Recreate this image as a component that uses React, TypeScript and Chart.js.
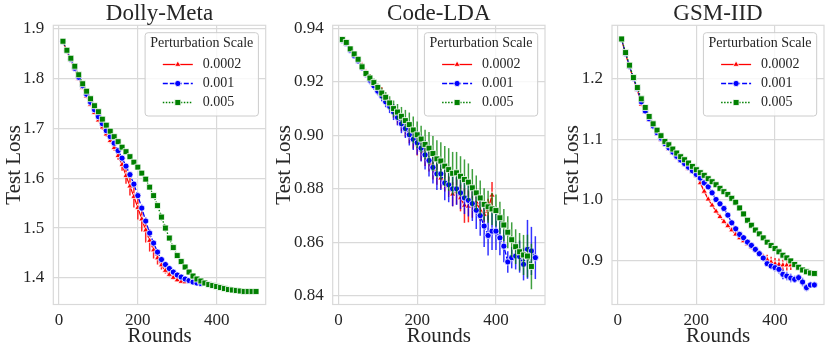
import React, { useEffect, useRef } from "react";
import { Chart, registerables } from "chart.js";
import { drawPoint } from "chart.js/helpers";

Chart.register(...registerables);

const FONT = "'Liberation Serif', 'Times New Roman', serif";
const TEXT = "#262626";
const GRID = "#d9d9d9";

const ROUNDS = [10, 20, 30, 40, 50, 60, 70, 80, 90, 100, 110, 120, 130, 140, 150, 160, 170, 180, 190, 200, 210, 220, 230, 240, 250, 260, 270, 280, 290, 300, 310, 320, 330, 340, 350, 360, 370, 380, 390, 400, 410, 420, 430, 440, 450, 460, 470, 480, 490, 500];
const X_TICKS = [0, 200, 400];
const SCALE_LABELS = ["0.0002", "0.001", "0.005"];
const LEGEND_TITLE = "Perturbation Scale";

// ---- Dolly-Meta ----
const DOLLY_Y_TICKS = [1.4, 1.5, 1.6, 1.7, 1.8, 1.9];
const DOLLY_RED = [1.873, 1.854, 1.836, 1.818, 1.799, 1.781, 1.764, 1.747, 1.731, 1.716, 1.702, 1.688, 1.675, 1.661, 1.645, 1.627, 1.605, 1.584, 1.563, 1.541, 1.518, 1.496, 1.475, 1.456, 1.440, 1.426, 1.415, 1.407, 1.401, 1.396, 1.393, 1.392, 1.393, 1.395];
const DOLLY_RED_ERR = [0.002, 0.002, 0.003, 0.003, 0.003, 0.003, 0.004, 0.004, 0.004, 0.004, 0.005, 0.005, 0.005, 0.006, 0.008, 0.012, 0.016, 0.019, 0.022, 0.024, 0.025, 0.025, 0.022, 0.017, 0.013, 0.009, 0.006, 0.005, 0.004, 0.004, 0.003, 0.003, 0.003, 0.003];
const DOLLY_BLUE = [1.874, 1.855, 1.838, 1.820, 1.802, 1.785, 1.768, 1.752, 1.737, 1.723, 1.709, 1.695, 1.683, 1.670, 1.655, 1.640, 1.624, 1.607, 1.588, 1.565, 1.540, 1.514, 1.490, 1.470, 1.452, 1.437, 1.427, 1.419, 1.412, 1.406, 1.402, 1.398, 1.395, 1.392, 1.390, 1.389];
const DOLLY_BLUE_ERR = [0.002, 0.002, 0.002, 0.002, 0.003, 0.003, 0.003, 0.003, 0.003, 0.003, 0.003, 0.004, 0.004, 0.004, 0.004, 0.005, 0.005, 0.005, 0.006, 0.006, 0.007, 0.007, 0.007, 0.006, 0.005, 0.005, 0.004, 0.004, 0.003, 0.003, 0.003, 0.003, 0.003, 0.003, 0.003, 0.003];
const DOLLY_GREEN = [1.874, 1.856, 1.840, 1.824, 1.807, 1.789, 1.774, 1.759, 1.745, 1.733, 1.718, 1.706, 1.694, 1.683, 1.673, 1.662, 1.653, 1.643, 1.632, 1.622, 1.610, 1.598, 1.582, 1.565, 1.545, 1.522, 1.500, 1.480, 1.461, 1.445, 1.433, 1.422, 1.412, 1.404, 1.398, 1.394, 1.390, 1.387, 1.385, 1.383, 1.381, 1.379, 1.377, 1.376, 1.375, 1.374, 1.373, 1.373, 1.373, 1.373];
const DOLLY_GREEN_ERR = [0.002, 0.003, 0.003, 0.003, 0.003, 0.003, 0.003, 0.004, 0.004, 0.004, 0.004, 0.004, 0.004, 0.004, 0.004, 0.004, 0.004, 0.004, 0.005, 0.005, 0.005, 0.005, 0.006, 0.006, 0.006, 0.007, 0.007, 0.006, 0.006, 0.005, 0.004, 0.004, 0.003, 0.003, 0.003, 0.002, 0.002, 0.002, 0.002, 0.002, 0.002, 0.002, 0.002, 0.002, 0.002, 0.002, 0.002, 0.002, 0.002, 0.002];

// ---- Code-LDA ----
const CODE_Y_TICKS = [0.84, 0.86, 0.88, 0.9, 0.92, 0.94];
const CODE_RED = [0.9355, 0.9345, 0.9318, 0.9300, 0.9283, 0.9262, 0.9236, 0.9214, 0.9190, 0.9170, 0.9160, 0.9135, 0.9115, 0.9090, 0.9070, 0.9045, 0.9025, 0.9005, 0.8985, 0.8965, 0.8945, 0.8925, 0.8905, 0.8880, 0.8860, 0.8840, 0.8830, 0.8810, 0.8780, 0.8792, 0.8766, 0.8738, 0.8735, 0.8742, 0.8750, 0.8720, 0.8704, 0.8723, 0.8776];
const CODE_RED_ERR = [0.001, 0.001, 0.001, 0.001, 0.001, 0.001, 0.001, 0.0015, 0.0015, 0.0015, 0.002, 0.002, 0.002, 0.0025, 0.003, 0.003, 0.003, 0.0035, 0.0035, 0.004, 0.004, 0.004, 0.004, 0.0045, 0.0045, 0.004, 0.004, 0.004, 0.0045, 0.005, 0.005, 0.0065, 0.006, 0.005, 0.004, 0.004, 0.004, 0.004, 0.005];
const CODE_BLUE = [0.9355, 0.9343, 0.9318, 0.9297, 0.9278, 0.9252, 0.9228, 0.9206, 0.9185, 0.9165, 0.9147, 0.9125, 0.9108, 0.9087, 0.9067, 0.9043, 0.9025, 0.9002, 0.8985, 0.8972, 0.8952, 0.8927, 0.8906, 0.8880, 0.8856, 0.8856, 0.8822, 0.8815, 0.8800, 0.8800, 0.8785, 0.8766, 0.8757, 0.8745, 0.8720, 0.8700, 0.8661, 0.8626, 0.8642, 0.8642, 0.8617, 0.8586, 0.8527, 0.8543, 0.8549, 0.8547, 0.8518, 0.8574, 0.8568, 0.8543];
const CODE_BLUE_ERR = [0.001, 0.001, 0.001, 0.001, 0.001, 0.0012, 0.0012, 0.0015, 0.0015, 0.0015, 0.002, 0.002, 0.0025, 0.003, 0.003, 0.0035, 0.0035, 0.004, 0.004, 0.0045, 0.005, 0.0055, 0.006, 0.006, 0.006, 0.006, 0.0065, 0.0065, 0.0065, 0.006, 0.006, 0.006, 0.006, 0.0065, 0.007, 0.0075, 0.0078, 0.0075, 0.007, 0.007, 0.0065, 0.006, 0.004, 0.004, 0.005, 0.006, 0.006, 0.011, 0.009, 0.008];
const CODE_GREEN = [0.9358, 0.9347, 0.9323, 0.9304, 0.9284, 0.9256, 0.9231, 0.9214, 0.9197, 0.9179, 0.9158, 0.9142, 0.9121, 0.9100, 0.9087, 0.9071, 0.9055, 0.9040, 0.9020, 0.9002, 0.8986, 0.8966, 0.8952, 0.8932, 0.8912, 0.8904, 0.8885, 0.8872, 0.8858, 0.8860, 0.8847, 0.8835, 0.8825, 0.8804, 0.8785, 0.8766, 0.8742, 0.8733, 0.8725, 0.8719, 0.8692, 0.8665, 0.8638, 0.8610, 0.8584, 0.8565, 0.8553, 0.8549, 0.8510];
const CODE_GREEN_ERR = [0.001, 0.001, 0.001, 0.001, 0.001, 0.0012, 0.0012, 0.0015, 0.0015, 0.0015, 0.002, 0.002, 0.0025, 0.003, 0.003, 0.0035, 0.004, 0.0045, 0.005, 0.005, 0.005, 0.0055, 0.006, 0.0065, 0.007, 0.007, 0.0075, 0.008, 0.008, 0.0078, 0.0075, 0.0075, 0.007, 0.007, 0.0065, 0.0065, 0.006, 0.006, 0.006, 0.006, 0.006, 0.006, 0.006, 0.0065, 0.0065, 0.007, 0.0075, 0.008, 0.0085];

// ---- GSM-IID ----
const GSM_Y_TICKS = [0.9, 1.0, 1.1, 1.2];
const GSM_RED = [1.265, 1.241, 1.220, 1.200, 1.182, 1.158, 1.145, 1.132, 1.120, 1.109, 1.100, 1.091, 1.084, 1.077, 1.070, 1.064, 1.058, 1.052, 1.047, 1.040, 1.028, 1.014, 1.001, 0.991, 0.981, 0.972, 0.964, 0.957, 0.950, 0.943, 0.937, 0.932, 0.927, 0.922, 0.917, 0.912, 0.906, 0.901, 0.897, 0.894, 0.893, 0.892, 0.892, 0.892];
const GSM_RED_ERR = [0.001, 0.001, 0.001, 0.001, 0.001, 0.001, 0.001, 0.001, 0.001, 0.001, 0.001, 0.001, 0.001, 0.0015, 0.0015, 0.0015, 0.002, 0.002, 0.002, 0.002, 0.003, 0.003, 0.003, 0.003, 0.003, 0.003, 0.003, 0.003, 0.003, 0.003, 0.003, 0.003, 0.003, 0.004, 0.004, 0.004, 0.006, 0.008, 0.009, 0.01, 0.01, 0.009, 0.009, 0.008];
const GSM_BLUE = [1.265, 1.242, 1.221, 1.201, 1.184, 1.162, 1.147, 1.134, 1.122, 1.111, 1.102, 1.093, 1.086, 1.079, 1.072, 1.066, 1.060, 1.054, 1.048, 1.042, 1.036, 1.028, 1.0215, 1.0116, 1.0005, 0.9934, 0.9857, 0.9747, 0.962, 0.9521, 0.9428, 0.9373, 0.9301, 0.9246, 0.918, 0.9109, 0.9037, 0.8944, 0.8905, 0.8878, 0.885, 0.8768, 0.874, 0.8707, 0.8685, 0.8713, 0.8641, 0.8548, 0.8592, 0.8592];
const GSM_BLUE_ERR = [0.001, 0.001, 0.001, 0.001, 0.001, 0.001, 0.001, 0.001, 0.001, 0.001, 0.001, 0.001, 0.001, 0.0015, 0.0015, 0.0015, 0.002, 0.002, 0.003, 0.004, 0.004, 0.005, 0.005, 0.005, 0.004, 0.004, 0.004, 0.003, 0.003, 0.003, 0.003, 0.003, 0.003, 0.003, 0.003, 0.003, 0.004, 0.004, 0.005, 0.006, 0.007, 0.008, 0.007, 0.007, 0.006, 0.006, 0.007, 0.006, 0.005, 0.005];
const GSM_GREEN = [1.266, 1.2435, 1.2226, 1.2022, 1.1857, 1.167, 1.1527, 1.1378, 1.1257, 1.1153, 1.106, 1.0966, 1.0911, 1.0839, 1.0773, 1.0713, 1.0663, 1.0608, 1.0553, 1.0498, 1.0449, 1.0405, 1.035, 1.030, 1.025, 1.019, 1.0135, 1.009, 1.0025, 0.996, 0.9866, 0.9767, 0.9662, 0.958, 0.950, 0.9437, 0.9371, 0.930, 0.9244, 0.9195, 0.914, 0.9084, 0.904, 0.899, 0.8931, 0.8885, 0.884, 0.881, 0.879, 0.8782];
const GSM_GREEN_ERR = [0.0015, 0.0015, 0.0015, 0.0015, 0.0015, 0.0015, 0.0015, 0.0015, 0.0015, 0.0015, 0.0015, 0.0015, 0.0015, 0.0015, 0.0015, 0.0015, 0.0015, 0.0015, 0.0015, 0.0015, 0.0015, 0.0015, 0.0015, 0.0015, 0.0015, 0.0015, 0.0015, 0.0015, 0.0015, 0.0015, 0.0015, 0.0015, 0.0015, 0.0015, 0.0015, 0.0015, 0.0015, 0.0015, 0.0015, 0.0015, 0.0015, 0.0015, 0.0015, 0.0015, 0.0015, 0.0015, 0.0015, 0.0015, 0.0015, 0.0015];

const COLORS = ["#ff0000", "#0000ff", "#008000"];
const ERR_COLORS = ["rgba(255,0,0,0.85)", "rgba(0,0,255,0.8)", "rgba(0,128,0,0.75)"];
const DASHES = [[], [5, 2], [1.5, 1.5]];
const MARKERS = ["triangle", "circle", "rect"];
const RADII = [3.6, 3.1, 4.2];

type Panel = {
  title: string;
  yMin: number;
  yMax: number;
  yTicks: number[];
  digits: number;
  series: number[][];
  errors: number[][];
  left: number;
  width: number;
  axisW: number;
  padRight: number;
  yTitlePad: number;
};

const PANELS: Panel[] = [
  { title: "Dolly-Meta", yMin: 1.347, yMax: 1.906, yTicks: DOLLY_Y_TICKS, digits: 1, series: [DOLLY_RED, DOLLY_BLUE, DOLLY_GREEN], errors: [DOLLY_RED_ERR, DOLLY_BLUE_ERR, DOLLY_GREEN_ERR], left: 0, width: 279, axisW: 53.3, padRight: 13.3, yTitlePad: 2.1 },
  { title: "Code-LDA", yMin: 0.8368, yMax: 0.9411, yTicks: CODE_Y_TICKS, digits: 2, series: [CODE_RED, CODE_BLUE, CODE_GREEN], errors: [CODE_RED_ERR, CODE_BLUE_ERR, CODE_GREEN_ERR], left: 270, width: 280, axisW: 62.7, padRight: 5, yTitlePad: 2.1 },
  { title: "GSM-IID", yMin: 0.8269, yMax: 1.2886, yTicks: GSM_Y_TICKS, digits: 1, series: [GSM_RED, GSM_BLUE, GSM_GREEN], errors: [GSM_RED_ERR, GSM_BLUE_ERR, GSM_GREEN_ERR], left: 550, width: 280, axisW: 62, padRight: 6, yTitlePad: 9.9 },
];

const errorBarPlugin = {
  id: "errorBars",
  beforeDatasetDraw(chart: any, args: any) {
    const ds = chart.data.datasets[args.index];
    if (!ds.errors) return;
    const ys = chart.scales.y;
    const ctx = chart.ctx;
    ctx.save();
    ctx.strokeStyle = ds.errorColor;
    ctx.lineWidth = 1.5;
    ctx.setLineDash([]);
    args.meta.data.forEach((pt: any, i: number) => {
      const v = ds.data[i].y;
      const e = ds.errors[i];
      ctx.beginPath();
      ctx.moveTo(pt.x, ys.getPixelForValue(v - e));
      ctx.lineTo(pt.x, ys.getPixelForValue(v + e));
      ctx.stroke();
    });
    ctx.restore();
  },
};

const framePlugin = {
  id: "frame",
  beforeDatasetsDraw(chart: any) {
    const { ctx, chartArea: a } = chart;
    ctx.save();
    ctx.strokeStyle = GRID;
    ctx.lineWidth = 1.2;
    ctx.strokeRect(a.left, a.top, a.right - a.left, a.bottom - a.top);
    ctx.restore();
  },
};

// Title centred over the plot area (as in the reference), drawn as canvas text.
const plotTitlePlugin = {
  id: "plotTitle",
  afterDraw(chart: any, _args: any, opts: any) {
    const { ctx, chartArea: a } = chart;
    ctx.save();
    ctx.fillStyle = TEXT;
    ctx.font = `23px ${FONT}`;
    ctx.textAlign = "center";
    ctx.textBaseline = "middle";
    ctx.fillText(opts.text, (a.left + a.right) / 2, 14);
    ctx.restore();
  },
};

const legendPlugin = {
  id: "boxLegend",
  afterDraw(chart: any) {
    const { ctx, chartArea: a } = chart;
    const w = 113.3;
    const h = 83.3;
    const left = a.right - 7.3 - w;
    const top = a.top + 7.4;
    ctx.save();
    ctx.beginPath();
    ctx.roundRect(left, top, w, h, 3);
    ctx.fillStyle = "rgba(255,255,255,0.8)";
    ctx.fill();
    ctx.strokeStyle = "#cccccc";
    ctx.lineWidth = 1;
    ctx.stroke();
    ctx.fillStyle = TEXT;
    ctx.font = `14px ${FONT}`;
    ctx.textAlign = "center";
    ctx.textBaseline = "middle";
    ctx.fillText(LEGEND_TITLE, left + w / 2, top + 11);
    chart.data.datasets.forEach((ds: any, k: number) => {
      const yy = top + 31.8 + 19 * k;
      ctx.strokeStyle = ds.borderColor;
      ctx.lineWidth = ds.borderWidth;
      ctx.setLineDash(ds.borderDash);
      ctx.beginPath();
      ctx.moveTo(left + 17.7, yy);
      ctx.lineTo(left + 47.7, yy);
      ctx.stroke();
      ctx.setLineDash([]);
      ctx.fillStyle = ds.pointBackgroundColor;
      ctx.strokeStyle = ds.pointBorderColor;
      ctx.lineWidth = ds.pointBorderWidth;
      drawPoint(ctx, { pointStyle: ds.pointStyle, radius: ds.pointRadius, borderWidth: ds.pointBorderWidth, rotation: 0 } as any, left + 32.7, yy);
      ctx.fillStyle = TEXT;
      ctx.textAlign = "left";
      ctx.fillText(ds.label, left + 57.7, yy);
    });
    ctx.restore();
  },
};

function PanelChart({ p }: { p: Panel }) {
  const ref = useRef<HTMLCanvasElement>(null);
  useEffect(() => {
    if (!ref.current) return;
    const datasets = p.series.map((vals, k) => ({
      type: "line",
      label: SCALE_LABELS[k],
      data: vals.map((v, i) => ({ x: ROUNDS[i], y: v })),
      errors: p.errors[k],
      errorColor: ERR_COLORS[k],
      borderColor: COLORS[k],
      backgroundColor: COLORS[k],
      borderWidth: 1.3,
      borderDash: DASHES[k],
      pointStyle: MARKERS[k],
      pointRadius: RADII[k],
      pointBackgroundColor: COLORS[k],
      pointBorderColor: "#ffffff",
      pointBorderWidth: 0.8,
      tension: 0,
      fill: false,
      order: 3 - k,
    }));
    const chart = new Chart(ref.current, {
      type: "line",
      data: { datasets } as any,
      options: {
        responsive: false,
        animation: false,
        devicePixelRatio: 1,
        events: [],
        layout: { padding: { left: 0, right: p.padRight, top: 25.3, bottom: 0 } },
        plugins: {
          legend: { display: false },
          tooltip: { enabled: false },
          title: { display: false },
          plotTitle: { text: p.title },
        },
        scales: {
          x: {
            type: "linear",
            min: -14.5,
            max: 524.5,
            afterBuildTicks: (s: any) => {
              s.ticks = X_TICKS.map((v) => ({ value: v }));
            },
            afterFit: (s: any) => {
              s.height = 49.5;
            },
            grid: { color: GRID, lineWidth: 1.2, drawTicks: false },
            border: { display: false },
            ticks: { color: TEXT, font: { family: FONT, size: 17 }, padding: 6, maxRotation: 0 },
            title: { display: true, text: "Rounds", color: TEXT, font: { family: FONT, size: 21 }, padding: { top: 0, bottom: 4.7 } },
          },
          y: {
            type: "linear",
            min: p.yMin,
            max: p.yMax,
            afterBuildTicks: (s: any) => {
              s.ticks = p.yTicks.map((v) => ({ value: v }));
            },
            afterFit: (s: any) => {
              s.width = p.axisW;
            },
            grid: { color: GRID, lineWidth: 1.2, drawTicks: false },
            border: { display: false },
            ticks: {
              color: TEXT,
              font: { family: FONT, size: 17 },
              padding: 9,
              callback: (v: any) => Number(v).toFixed(p.digits),
            },
            title: { display: true, text: "Test Loss", color: TEXT, font: { family: FONT, size: 21 }, padding: { top: p.yTitlePad, bottom: 0 } },
          },
        },
      } as any,
      plugins: [framePlugin, errorBarPlugin, legendPlugin, plotTitlePlugin],
    });
    return () => chart.destroy();
  }, [p]);
  return (
    <canvas
      ref={ref}
      width={p.width}
      height={354}
      style={{ position: "absolute", left: p.left, top: 0, width: p.width, height: 354 }}
    />
  );
}

export default function App() {
  return (
    <div style={{ position: "absolute", left: 0, top: 0, width: 830, height: 354, overflow: "hidden", background: "#ffffff" }}>
      {PANELS.map((p) => (
        <PanelChart key={p.title} p={p} />
      ))}
    </div>
  );
}
